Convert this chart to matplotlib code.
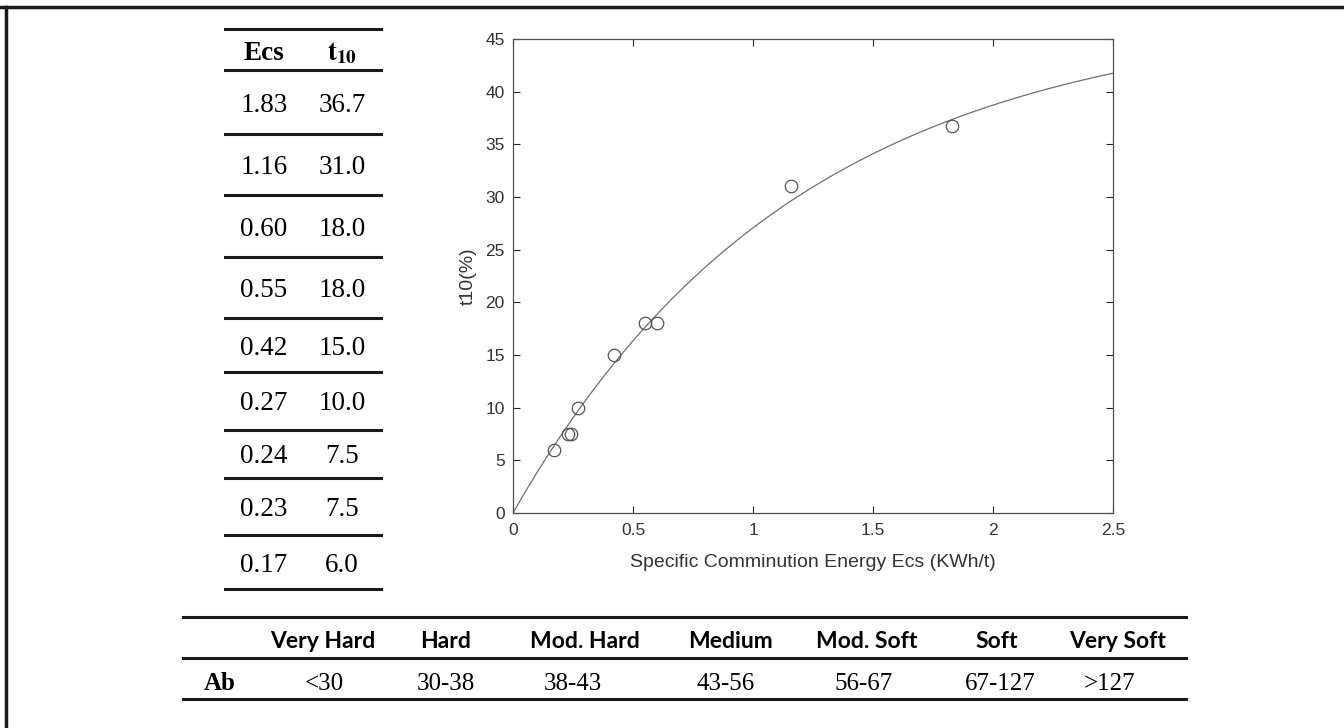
import numpy as np
import matplotlib
matplotlib.use('Agg')
import matplotlib.pyplot as plt
from matplotlib.lines import Line2D
from matplotlib.ticker import FuncFormatter

# data
ecs = [1.83, 1.16, 0.60, 0.55, 0.42, 0.27, 0.24, 0.23, 0.17]
t10 = [36.7, 31.0, 18.0, 18.0, 15.0, 10.0, 7.5, 7.5, 6.0]
hard_cats = ['Very Hard', 'Hard', 'Mod. Hard', 'Medium', 'Mod. Soft', 'Soft', 'Very Soft']
ab_ranges = ['<30', '30-38', '38-43', '43-56', '56-67', '67-127', '>127']

W, H = 1344, 728
fig = plt.figure(figsize=(W/100, H/100), dpi=100)

def fx(x):
    return x/W

def fy(y):
    return 1 - y/H

def hline(x0, x1, y, lw=2.2):
    fig.add_artist(Line2D([fx(x0), fx(x1)], [fy(y), fy(y)], color='#1a1a1a', lw=lw,
                          transform=fig.transFigure))

# outer frame (top + left)
hline(0, W, 7, lw=2.5)
fig.add_artist(Line2D([fx(6), fx(6)], [fy(7), 0], color='#1a1a1a', lw=2.5, transform=fig.transFigure))

serif = 'Liberation Serif'

# left table
tab_lines = [29, 70, 134, 195, 257, 318, 372, 430, 478, 535, 589]
for y in tab_lines:
    hline(225, 381, y)
fig.text(fx(264), fy(60), 'Ecs', family=serif, weight='bold', size=19.5, ha='center', va='baseline')
fig.text(fx(342), fy(60), r'$\mathbf{t_{10}}$', size=19.5, ha='center', va='baseline',
         math_fontfamily='stix')
for i in range(len(ecs)):
    yc = (tab_lines[i+1] + tab_lines[i+2]) / 2 + 9.5
    fig.text(fx(264), fy(yc), f'{ecs[i]:.2f}', family=serif, size=19.5, ha='center', va='baseline')
    fig.text(fx(342), fy(yc), f'{t10[i]:.1f}', family=serif, size=19.5, ha='center', va='baseline')

# scatter plot with fitted curve t10 = A(1-exp(-b*Ecs))
x = np.array(ecs)
y = np.array(t10)
best = None
for b in np.linspace(0.1, 3, 2901):
    g = 1 - np.exp(-b*x)
    A = np.sum(y*g) / np.sum(g*g)
    sse = np.sum((y - A*g)**2)
    if best is None or sse < best[0]:
        best = (sse, A, b)
_, A, b = best

ax = fig.add_axes([513/W, 1 - 513/H, 600/W, 474/H])
xs = np.linspace(0, 2.5, 300)
ax.plot(xs, A*(1 - np.exp(-b*xs)), color='#707070', lw=0.9)
ax.plot(ecs, t10, 'o', mfc='none', mec='#555555', ms=9, mew=0.9)
ax.set_xlim(0, 2.5)
ax.set_ylim(0, 45)
ax.set_xticks(np.arange(0, 2.51, 0.5))
ax.set_yticks(np.arange(0, 46, 5))
ax.xaxis.set_major_formatter(FuncFormatter(lambda v, p: f'{v:g}'))
ax.tick_params(direction='in', top=True, right=True, length=5, width=0.8,
               colors='#262626', labelsize=12.5, labelcolor='#333333')
ax.tick_params(axis='x', pad=7)
ax.tick_params(axis='y', pad=6)
for s in ax.spines.values():
    s.set_color('#505050')
    s.set_linewidth(0.9)
for lab in ax.get_xticklabels() + ax.get_yticklabels():
    lab.set_family('Liberation Sans')
ax.set_xlabel('Specific Comminution Energy Ecs (KWh/t)', family='Liberation Sans', size=14,
              color='#333333', labelpad=12)
ax.set_ylabel('t10(%)', family='Liberation Sans', size=14, color='#333333', labelpad=6)

# bottom table
for y in [617, 658, 699]:
    hline(183, 1186, y)
cat_x = [323, 446, 585, 731, 867, 997, 1118]
val_x = [324, 446, 573, 726, 864, 1000, 1110]
for cx, c in zip(cat_x, hard_cats):
    fig.text(fx(cx), fy(648), c, family='Lato', weight='bold', size=16.5, ha='center', va='baseline')
fig.text(fx(220), fy(690), 'Ab', family=serif, weight='bold', size=18, ha='center', va='baseline')
for cx, r in zip(val_x, ab_ranges):
    fig.text(fx(cx), fy(690), r, family=serif, size=18, ha='center', va='baseline')

fig.savefig('out.png', dpi=100, facecolor='white')
